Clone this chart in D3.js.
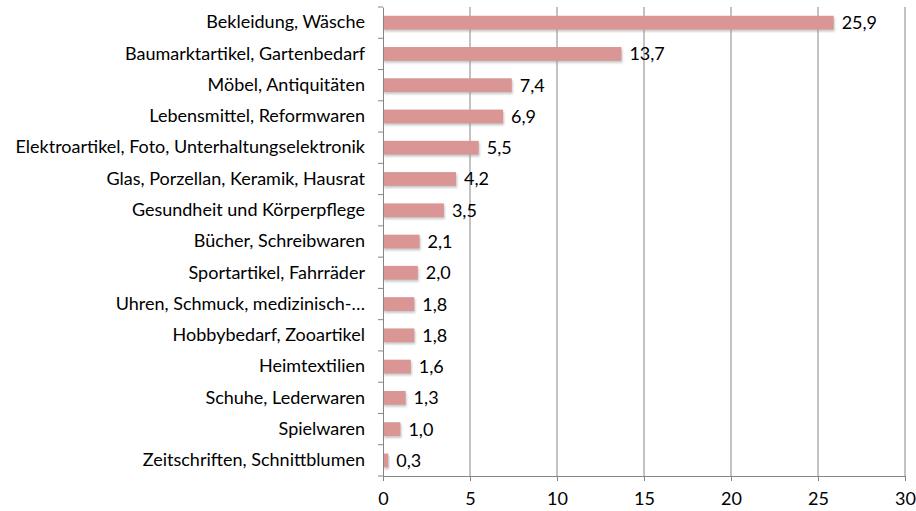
<!DOCTYPE html>
<html>
<head>
<meta charset="utf-8">
<script src="https://cdn.jsdelivr.net/npm/d3@7"></script>
<style>
  body { margin: 0; background: #fff; }
  svg text { font-family: Lato, "Open Sans", sans-serif; fill: #000; }
</style>
</head>
<body>
<svg id="chart" width="916" height="511"></svg>
<script>
const categories = [
  "Bekleidung, Wäsche",
  "Baumarktartikel, Gartenbedarf",
  "Möbel, Antiquitäten",
  "Lebensmittel, Reformwaren",
  "Elektroartikel, Foto, Unterhaltungselektronik",
  "Glas, Porzellan, Keramik, Hausrat",
  "Gesundheit und Körperpflege",
  "Bücher, Schreibwaren",
  "Sportartikel, Fahrräder",
  "Uhren, Schmuck, medizinisch-…",
  "Hobbybedarf, Zooartikel",
  "Heimtextilien",
  "Schuhe, Lederwaren",
  "Spielwaren",
  "Zeitschriften, Schnittblumen"
];
const values = [25.9, 13.7, 7.4, 6.9, 5.5, 4.2, 3.5, 2.1, 2.0, 1.8, 1.8, 1.6, 1.3, 1.0, 0.3];
const xTicks = [0, 5, 10, 15, 20, 25, 30];

const margin = { top: 7, right: 11, bottom: 35, left: 383 };
const width = 916 - margin.left - margin.right;
const height = 511 - margin.top - margin.bottom;
const fontSize = "18px";

const svg = d3.select("#chart");

const defs = svg.append("defs");
defs.append("filter").attr("id", "blur")
    .append("feGaussianBlur").attr("stdDeviation", 0.8);

const g = svg.append("g").attr("transform", `translate(${margin.left},${margin.top})`);

const x = d3.scaleLinear().domain([0, 30]).range([0, width]);
const y = d3.scaleBand().domain(categories).range([0, height]).paddingInner(0.56).paddingOuter(0.28);

// gridlines
g.selectAll(".grid")
    .data(xTicks.slice(1))
    .enter().append("line")
    .attr("x1", d => x(d)).attr("x2", d => x(d))
    .attr("y1", 0).attr("y2", height)
    .attr("stroke", "#868686").attr("stroke-width", 1);

// bar shadows
g.selectAll(".shadow")
    .data(values)
    .enter().append("rect")
    .attr("x", 1)
    .attr("y", (d, i) => y(categories[i]) + 2)
    .attr("width", d => x(d))
    .attr("height", y.bandwidth())
    .attr("fill", "#9a9a9a")
    .attr("opacity", 0.55)
    .attr("filter", "url(#blur)");

// bars
g.selectAll(".bar")
    .data(values)
    .enter().append("rect")
    .attr("x", 0)
    .attr("y", (d, i) => y(categories[i]))
    .attr("width", d => x(d))
    .attr("height", y.bandwidth())
    .attr("fill", "#d99694");

// value labels
g.selectAll(".val")
    .data(values)
    .enter().append("text")
    .attr("x", d => x(d) + 8)
    .attr("y", (d, i) => y(categories[i]) + y.bandwidth() / 2)
    .attr("dy", "0.36em")
    .style("font-size", fontSize)
    .text(d => d.toFixed(1).replace(".", ","));

// y axis
const yAxis = g.append("g")
    .call(d3.axisLeft(y).tickSizeInner(0).tickSizeOuter(0).tickPadding(18));
yAxis.select(".domain").attr("stroke", "#868686");
yAxis.selectAll("text").style("font-size", fontSize);

// category separator ticks
g.selectAll(".ytick")
    .data(d3.range(categories.length + 1))
    .enter().append("line")
    .attr("x1", -5).attr("x2", 0)
    .attr("y1", i => i * height / categories.length)
    .attr("y2", i => i * height / categories.length)
    .attr("stroke", "#868686");

// x axis
const xAxis = g.append("g")
    .attr("transform", `translate(0,${height})`)
    .call(d3.axisBottom(x).tickValues(xTicks).tickSizeInner(5).tickSizeOuter(0).tickPadding(11));
xAxis.select(".domain").attr("stroke", "#868686");
xAxis.selectAll(".tick line").attr("stroke", "#868686");
xAxis.selectAll("text").style("font-size", fontSize);
</script>
</body>
</html>
